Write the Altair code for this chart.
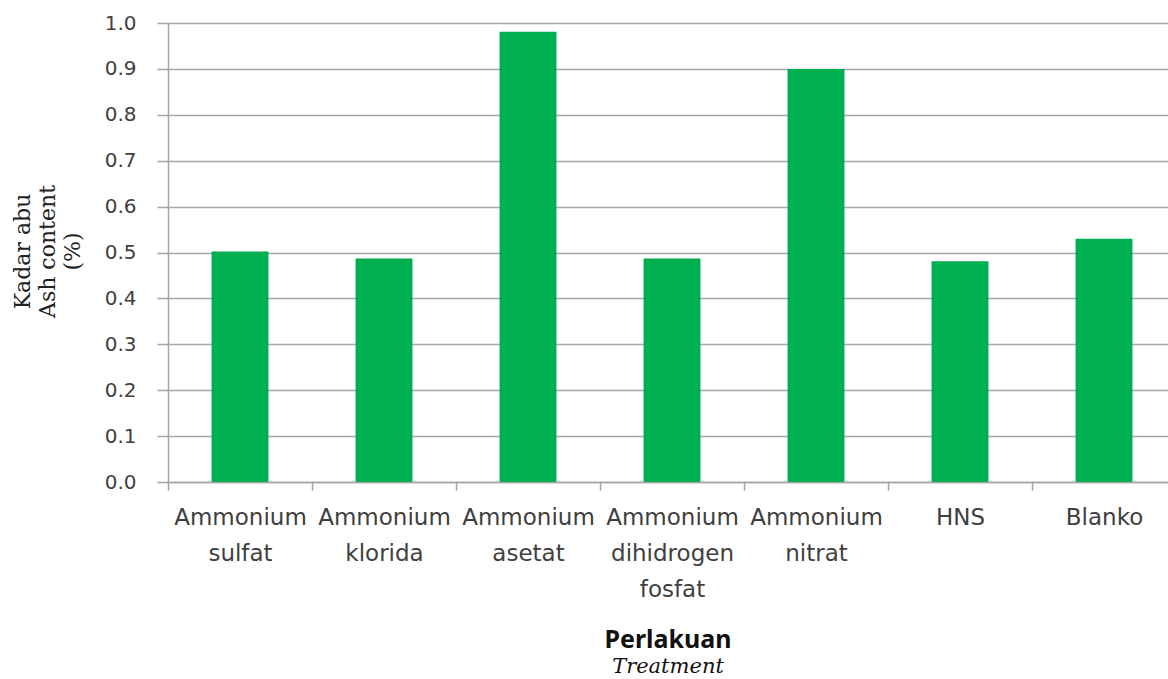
import altair as alt
import pandas as pd

categories = ["Ammonium|sulfat", "Ammonium|klorida", "Ammonium|asetat",
              "Ammonium|dihidrogen|fosfat", "Ammonium|nitrat", "HNS", "Blanko"]
values = [0.502, 0.487, 0.981, 0.487, 0.900, 0.481, 0.530]
y_ticks = [0.0, 0.1, 0.2, 0.3, 0.4, 0.5, 0.6, 0.7, 0.8, 0.9, 1.0]

df = pd.DataFrame({"cat": categories, "val": values})

GRID = "#a6a6a6"
LABEL = "#404040"

chart = alt.Chart(df).mark_bar(color="#00b050", width=alt.RelativeBandSize(0.395)).encode(
    x=alt.X("cat:N", sort=None,
            scale=alt.Scale(range=[0, 1008], paddingInner=0, paddingOuter=0),
            axis=alt.Axis(title=None, labelExpr="split(datum.label, '|')",
                          labelAngle=0, labelFont="DejaVu Sans", labelFontSize=23,
                          labelColor=LABEL, labelLineHeight=36, labelPadding=16,
                          labelBaseline="top",
                          tickBand="extent", tickSize=8, tickColor=GRID, tickWidth=1.5,
                          domainColor=GRID, domainWidth=1.5, grid=False)),
    y=alt.Y("val:Q", scale=alt.Scale(domain=[0, 1], nice=False),
            axis=alt.Axis(values=y_ticks, format=".1f",
                          title=["Kadar abu", "Ash content", "(%)"],
                          titleFont="DejaVu Serif", titleFontSize=22, titleFontWeight="normal",
                          titleColor="#222222", titleLineHeight=25,
                          titleX=-146, titleY=228, titleAngle=-90,
                          titleAlign="center", titleBaseline="middle",
                          labelFont="DejaVu Sans", labelFontSize=20, labelColor=LABEL,
                          labelPadding=21,
                          tickSize=11, tickColor=GRID, tickWidth=1.5,
                          domainColor=GRID, domainWidth=1.5,
                          grid=True, gridColor=GRID, gridWidth=1.5)),
).properties(
    width=1000, height=459,
    title=alt.Title("Perlakuan", subtitle="Treatment", orient="bottom", anchor="middle",
                    font="Noto Sans", fontSize=25, fontWeight="bold", color="#111111",
                    subtitleFont="DejaVu Serif", subtitleFontSize=21,
                    subtitleFontStyle="italic", subtitleColor="#111111",
                    subtitlePadding=3, offset=27),
    autosize=alt.AutoSizeParams(type="none"),
    padding={"left": 168, "top": 23, "right": 0, "bottom": 197},
).configure_view(stroke=None)

chart.save("out.html", embed_options={"renderer": "svg", "actions": False})
